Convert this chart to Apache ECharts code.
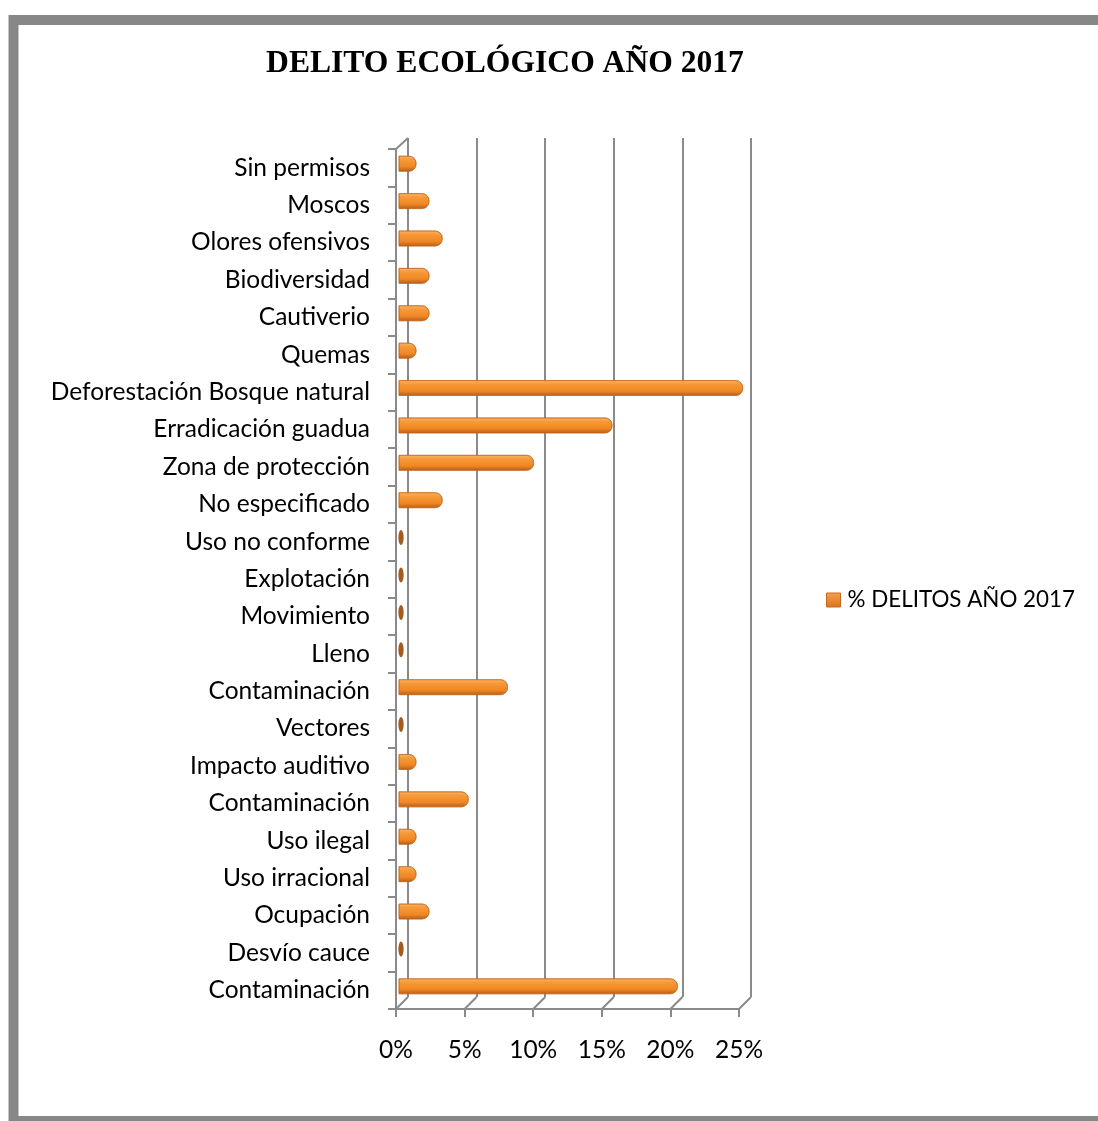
<!DOCTYPE html>
<html>
<head>
<meta charset="utf-8">
<script src="https://cdn.jsdelivr.net/npm/echarts@6/dist/echarts.min.js"></script>
<style>
html,body{margin:0;padding:0;background:#fff;}
#chart{width:1098px;height:1121px;}
</style>
</head>
<body>
<div id="chart"></div>
<script>
const categories = [
  'Sin permisos','Moscos','Olores ofensivos','Biodiversidad','Cautiverio','Quemas',
  'Deforestación Bosque natural','Erradicación guadua','Zona de protección','No especificado',
  'Uso no conforme','Explotación','Movimiento','Lleno','Contaminación','Vectores',
  'Impacto auditivo','Contaminación','Uso ilegal','Uso irracional','Ocupación','Desvío cauce','Contaminación'
];
const values = [
  0.95, 1.90, 2.86, 1.90, 1.90, 0.95,
  24.76, 15.24, 9.52, 2.86,
  0, 0, 0, 0, 7.62, 0,
  0.95, 4.76, 0.95, 0.95, 1.90, 0, 20.00
];
const xTicks = [0, 5, 10, 15, 20, 25];
const seriesName = '% DELITOS AÑO 2017';
const titleText = 'DELITO ECOLÓGICO AÑO 2017';

const chart = echarts.init(document.getElementById('chart'));
const FONT = 'Lato';
const GRID_COLOR = '#8a8a8a';

const front = {left: 396, top: 149, width: 343, height: 860};
const back = {left: 408, top: 138, width: 343, height: 859};
const bars = {left: 399, top: 145, width: 343, height: 860};

const barGradient = new echarts.graphic.LinearGradient(0, 0, 0, 1, [
  {offset: 0, color: '#fbb467'},
  {offset: 0.25, color: '#f79a38'},
  {offset: 0.7, color: '#f08624'},
  {offset: 1, color: '#b35d1a'}
]);

function renderBar(params, api) {
  const idx = api.value(0);
  const v = api.value(1);
  const start = api.coord([0, idx]);
  const end = api.coord([v, idx]);
  const h = 15;
  const depth = 4;
  if (v === 0) {
    return {
      type: 'ellipse',
      shape: {cx: start[0] + 2, cy: start[1], rx: 2.6, ry: h / 2},
      style: {fill: '#a65a1c'}
    };
  }
  return {
    type: 'rect',
    shape: {x: start[0], y: start[1] - h / 2, width: end[0] - start[0] + depth, height: h, r: [0, 7, 7, 0]},
    style: {fill: barGradient, stroke: '#c0681f', lineWidth: 0.6}
  };
}

const option = {
  animation: false,
  backgroundColor: '#ffffff',
  title: {
    text: titleText,
    left: 500, top: 43, textAlign: 'center',
    textStyle: {fontFamily: 'Liberation Serif', fontWeight: 'bold', fontSize: 31.6, color: '#000'}
  },
  legend: {
    left: 826, top: 589, padding: 0,
    itemWidth: 14, itemHeight: 14, itemGap: 10,
    icon: 'rect',
    data: [{name: seriesName, itemStyle: {color: new echarts.graphic.LinearGradient(0,0,0,1,[{offset:0,color:'#f7a04c'},{offset:1,color:'#d8731f'}]), borderColor: '#c46a20', borderWidth: 1}}],
    textStyle: {fontFamily: FONT, fontSize: 22.4, color: '#000', padding: [2,0,0,2]}
  },
  grid: [
    Object.assign({containLabel: false}, back),
    Object.assign({containLabel: false}, front),
    Object.assign({containLabel: false}, bars)
  ],
  xAxis: [
    {gridIndex: 0, type: 'value', min: 0, max: 25, interval: 5,
     axisLine: {show: false}, axisTick: {show: false}, axisLabel: {show: false},
     splitLine: {show: true, lineStyle: {color: GRID_COLOR, width: 2}}},
    {gridIndex: 1, type: 'value', min: 0, max: 25, interval: 5,
     axisLine: {show: true, onZero: false, lineStyle: {color: GRID_COLOR, width: 2}},
     axisTick: {show: true, length: 8, lineStyle: {color: GRID_COLOR, width: 2}},
     axisLabel: {show: true, margin: 29, fontFamily: FONT, fontSize: 24.5, color: '#000',
       formatter: function (v) { return v + '%'; }},
     splitLine: {show: false}},
    {gridIndex: 2, type: 'value', min: 0, max: 25, interval: 5, show: false}
  ],
  yAxis: [
    {gridIndex: 0, type: 'category', data: categories, inverse: true, show: false},
    {gridIndex: 1, type: 'category', data: categories, inverse: true,
     axisLine: {show: true, lineStyle: {color: GRID_COLOR, width: 2}},
     axisTick: {show: true, length: 8, lineStyle: {color: GRID_COLOR, width: 2}},
     axisLabel: {show: true, margin: 26, fontFamily: FONT, fontSize: 24.5, color: '#000', interval: 0},
     splitLine: {show: false}},
    {gridIndex: 2, type: 'category', data: categories, inverse: true, show: false}
  ],
  series: [{
    name: seriesName,
    type: 'custom',
    xAxisIndex: 2, yAxisIndex: 2,
    renderItem: renderBar,
    encode: {x: 1, y: 0},
    data: values.map(function (v, i) { return [i, v]; })
  }]
};
chart.setOption(option);

// 3D floor / wall edges derived from the axes
const g = [];
const fy = front.top + front.height;
const by = back.top + back.height;
xTicks.forEach(function (v) {
  const fx = chart.convertToPixel({xAxisIndex: 1}, v);
  const bx = chart.convertToPixel({xAxisIndex: 0}, v);
  g.push({type: 'line', shape: {x1: fx, y1: fy, x2: bx, y2: by}, style: {stroke: GRID_COLOR, lineWidth: 2}, z: 1});
});
const fx0 = chart.convertToPixel({xAxisIndex: 1}, 0);
const bx0 = chart.convertToPixel({xAxisIndex: 0}, 0);
g.push({type: 'line', shape: {x1: fx0, y1: front.top, x2: bx0, y2: back.top}, style: {stroke: GRID_COLOR, lineWidth: 2}, z: 1});
g.push({type: 'line', shape: {x1: fx0 - 8, y1: front.top, x2: fx0, y2: front.top}, style: {stroke: GRID_COLOR, lineWidth: 2}, z: 1});
// outer frame
g.push({type: 'rect', shape: {x: 13.5, y: 20, width: 1100, height: 1101}, style: {fill: 'none', stroke: '#878787', lineWidth: 10}, z: 10});
chart.setOption({graphic: g});
</script>
</body>
</html>
